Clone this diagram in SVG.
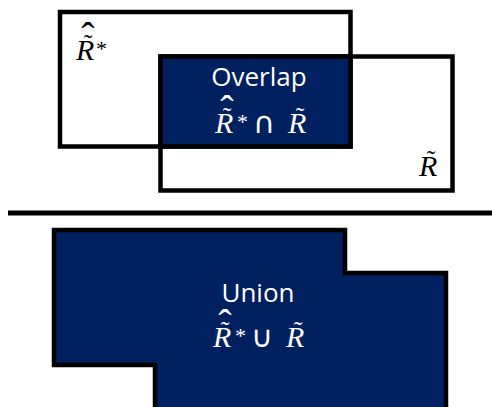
<svg xmlns="http://www.w3.org/2000/svg" width="492" height="407" viewBox="0 0 492 407">
<defs>
<style>
.box{fill:none;stroke:#000;stroke-width:4.5}
.fillbox{fill:#002060;stroke:#000;stroke-width:4.5;stroke-linejoin:miter}
.lbl{font-family:"Open Sans","Liberation Sans",sans-serif;font-size:26px;fill:#fff;text-anchor:middle}
.mt{font-family:"Liberation Serif","DejaVu Serif",serif;font-size:30px}
.i{font-style:italic}
.sup{font-size:22px}
.op{font-family:"DejaVu Sans",sans-serif;font-size:30px;text-anchor:middle}
.tl{font-size:26px;text-anchor:middle}
.hat{font-size:40px;text-anchor:middle}
.w{fill:#fff}
.k{fill:#000}
</style>
</defs>
<rect width="492" height="407" fill="#fff"/>
<g id="connectors">
<line x1="8" y1="213" x2="492" y2="213" stroke="#000" stroke-width="5"/>
</g>
<g id="rhatstar">
<rect class="box" x="60" y="12" width="290.5" height="134.5"/>
<text class="mt k" transform="translate(76,60)"><tspan class="i" x="0" y="0">R</tspan><tspan class="tl" x="12" y="-8">˜</tspan><tspan class="hat" x="12" y="-10">ˆ</tspan><tspan class="sup" x="20" y="-4">*</tspan></text>
</g>
<g id="rtilde">
<rect class="box" x="160.5" y="56.5" width="292" height="134"/>
<text class="mt k" transform="translate(419,176)"><tspan class="i" x="0" y="0">R</tspan><tspan class="tl" x="12" y="-8">˜</tspan></text>
</g>
<g id="overlap">
<rect class="fillbox" x="160.5" y="56.5" width="190" height="90"/>
<text class="lbl" x="259" y="86">Overlap</text>
<text class="mt w" transform="translate(215,133)"><tspan class="i" x="0" y="0">R</tspan><tspan class="tl" x="12" y="-8">˜</tspan><tspan class="hat" x="12" y="-10">ˆ</tspan><tspan class="sup" x="22" y="-4">*</tspan><tspan class="op" x="49" y="0">∩</tspan><tspan class="i" x="73" y="0">R</tspan><tspan class="tl" x="85" y="-8">˜</tspan></text>
</g>
<g id="union">
<polygon class="fillbox" points="54,230 345,230 345,273 446,273 446,412 155,412 155,365 54,365"/>
<text class="lbl" x="258" y="302">Union</text>
<text class="mt w" transform="translate(213,347)"><tspan class="i" x="0" y="0">R</tspan><tspan class="tl" x="12" y="-8">˜</tspan><tspan class="hat" x="12" y="-10">ˆ</tspan><tspan class="sup" x="22" y="-4">*</tspan><tspan class="op" x="49" y="0">∪</tspan><tspan class="i" x="73" y="0">R</tspan><tspan class="tl" x="85" y="-8">˜</tspan></text>
</g>
</svg>
